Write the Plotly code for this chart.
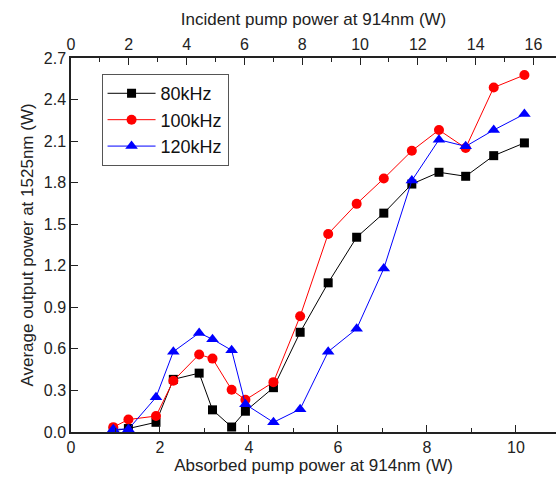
import plotly.graph_objects as go

absorbed = [0.95, 1.29, 1.91, 2.30, 2.88, 3.18, 3.61, 3.92, 4.55, 5.15,
            5.78, 6.42, 7.03, 7.66, 8.27, 8.87, 9.50, 10.19]
p80 = [0.01, 0.025, 0.07, 0.38, 0.425, 0.16, 0.036, 0.15, 0.32, 0.72,
       1.077, 1.406, 1.58, 1.79, 1.875, 1.846, 1.995, 2.087]
p100 = [0.035, 0.09, 0.115, 0.37, 0.56, 0.53, 0.305, 0.232, 0.36, 0.836,
        1.43, 1.647, 1.83, 2.03, 2.18, 2.05, 2.487, 2.577]
p120 = [0.02, 0.02, 0.25, 0.58, 0.715, 0.67, 0.59, 0.20, 0.07, 0.165,
        0.58, 0.745, 1.18, 1.815, 2.11, 2.062, 2.18, 2.295]
names = ["80kHz", "100kHz", "120kHz"]
colors = ["#000000", "#ff0000", "#0000ff"]
symbols = ["square", "circle", "triangle-up"]
sizes = [9, 10, 11]

bottom_ticks = [0, 2, 4, 6, 8, 10]
top_ticks = [0, 2, 4, 6, 8, 10, 12, 14, 16]
y_ticks = [0.0, 0.3, 0.6, 0.9, 1.2, 1.5, 1.8, 2.1, 2.4, 2.7]

fig = go.Figure()
for vals, n, c, s, sz in zip([p80, p100, p120], names, colors, symbols, sizes):
    fig.add_trace(go.Scatter(
        x=absorbed, y=vals, name=n, mode="lines+markers",
        line=dict(color=c, width=1),
        marker=dict(symbol=s, size=sz, color=c),
    ))

# invisible trace to anchor the top axis
fig.add_trace(go.Scatter(x=[0, 16], y=[None, None], xaxis="x2",
                         showlegend=False, hoverinfo="skip"))

font = "Liberation Sans, Arial, sans-serif"
common = dict(
    ticks="inside", ticklen=7, tickwidth=1.2, tickcolor="#222",
    showline=True, linecolor="#222", linewidth=1.5,
    showgrid=False, zeroline=False, automargin=False,
    tickfont=dict(size=16, color="#222"),
)
fig.update_layout(
    width=556, height=477,
    margin=dict(l=71, r=0, t=58, b=45, autoexpand=False),
    paper_bgcolor="white", plot_bgcolor="white",
    font=dict(family=font, size=16, color="#222"),
    showlegend=True,
    legend=dict(
        x=0.063, y=0.957, xanchor="left", yanchor="top",
        bgcolor="white", bordercolor="#555", borderwidth=1,
        font=dict(size=18, color="#111"),
        itemwidth=48, tracegroupgap=0,
    ),
    xaxis=dict(
        range=[0, 10.9], tickvals=bottom_ticks,
        minor=dict(dtick=1, tick0=0, ticks="inside", ticklen=4, tickcolor="#222"),
        title=dict(text="Absorbed pump power at 914nm (W)", font=dict(size=17), standoff=2),
        **common,
    ),
    xaxis2=dict(
        overlaying="x", side="top", anchor="y",
        range=[0, 16.78], tickvals=top_ticks,
        minor=dict(dtick=1, tick0=0, ticks="inside", ticklen=4, tickcolor="#222"),
        title=dict(text="Incident pump power at 914nm (W)", font=dict(size=17), standoff=6),
        **common,
    ),
    yaxis=dict(
        range=[0, 2.7], tickvals=y_ticks,
        ticktext=[f"{v:.1f}" for v in y_ticks],
        title=dict(text="Average output power at 1525nm (W)", font=dict(size=17), standoff=6),
        **common,
    ),
)

fig.write_html("out.html", config={"displayModeBar": False},
               post_script="document.body.style.margin='0';document.body.style.overflow='hidden';")
